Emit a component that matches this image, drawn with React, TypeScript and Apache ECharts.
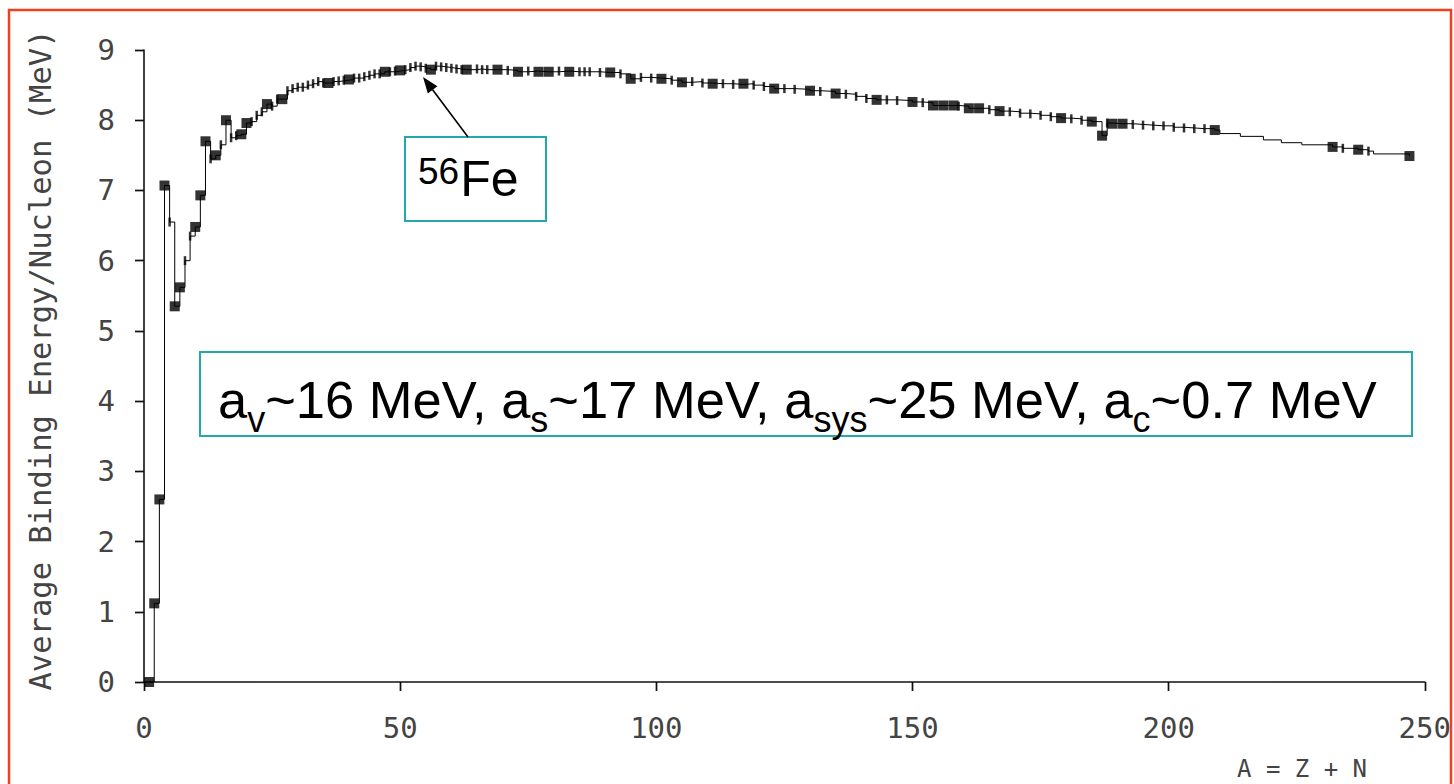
import React, { useEffect, useRef } from "react";
import * as echarts from "echarts";

// Mass number A and average binding energy per nucleon (MeV)
const squareA = [1, 2, 3, 4, 6, 7, 10, 11, 12, 14, 16, 19, 20, 24, 27, 36, 40, 47, 50, 56, 63, 69, 73, 77, 79, 83, 91, 95, 101, 105, 111, 117, 123, 130, 135, 143, 150, 154, 156, 158, 161, 163, 167, 179, 185, 187, 189, 191, 209, 232, 237, 247];
const squareBE = [0, 1.12, 2.6, 7.07, 5.35, 5.62, 6.48, 6.93, 7.7, 7.5, 8.0, 7.8, 7.96, 8.23, 8.3, 8.53, 8.58, 8.69, 8.71, 8.72, 8.72, 8.72, 8.69, 8.69, 8.69, 8.69, 8.68, 8.59, 8.59, 8.54, 8.52, 8.52, 8.45, 8.42, 8.38, 8.29, 8.26, 8.21, 8.21, 8.21, 8.17, 8.17, 8.13, 8.03, 7.98, 7.78, 7.95, 7.95, 7.86, 7.62, 7.58, 7.49];

const tickA = [5, 8, 9, 13, 15, 17, 18, 21, 22, 23, 25, 26, 28, 29, 30, 31, 32, 33, 34, 35, 37, 38, 39, 41, 42, 43, 44, 45, 46, 48, 49, 51, 52, 53, 54, 55, 57, 58, 59, 60, 61, 62, 65, 66, 67, 71, 75, 81, 85, 86, 87, 89, 93, 97, 99, 103, 107, 109, 113, 115, 119, 121, 125, 127, 132, 137, 139, 141, 145, 147, 152, 159, 165, 169, 171, 173, 175, 177, 181, 183, 188, 193, 195, 197, 199, 201, 203, 205, 207, 234, 239];
const tickBE = [6.55, 6.0, 6.35, 7.45, 7.65, 7.75, 7.78, 7.98, 8.07, 8.12, 8.2, 8.3, 8.42, 8.45, 8.47, 8.47, 8.5, 8.52, 8.55, 8.53, 8.55, 8.56, 8.57, 8.6, 8.6, 8.62, 8.64, 8.66, 8.66, 8.69, 8.7, 8.72, 8.75, 8.77, 8.76, 8.74, 8.77, 8.76, 8.75, 8.74, 8.73, 8.72, 8.73, 8.72, 8.72, 8.71, 8.7, 8.7, 8.69, 8.69, 8.69, 8.68, 8.66, 8.61, 8.6, 8.57, 8.55, 8.53, 8.52, 8.51, 8.5, 8.48, 8.45, 8.44, 8.41, 8.37, 8.34, 8.31, 8.29, 8.28, 8.25, 8.2, 8.15, 8.12, 8.1, 8.09, 8.07, 8.05, 8.02, 8.0, 7.96, 7.94, 7.93, 7.92, 7.92, 7.9, 7.89, 7.88, 7.88, 7.6, 7.56];

// points on the connecting step line that carry no marker
const lineOnlyA = [210, 214, 218.5, 222, 226, 240];
const lineOnlyBE = [7.81, 7.77, 7.72, 7.68, 7.65, 7.52];

const xTicks = { min: 0, max: 250, interval: 50 };
const yTicks = { min: 0, max: 9, interval: 1 };

const yAxisName = "Average Binding Energy/Nucleon (MeV)";
const xAxisName = "A = Z + N";
const feLabel = { sup: "56", main: "Fe" };
const coeffParts: [string, "m" | "s"][] = [
  ["a", "m"], ["v", "s"], ["~16 MeV, a", "m"], ["s", "s"], ["~17 MeV, a", "m"], ["sys", "s"],
  ["~25 MeV, a", "m"], ["c", "s"], ["~0.7 MeV", "m"],
];

const TEAL = "#23a9a8";
const RED = "#f0401f";
const AX = "#111";
const MONO = "DejaVu Sans Mono";
const SANS = "Liberation Sans";

export default function App() {
  const ref = useRef<HTMLDivElement>(null);

  useEffect(() => {
    if (!ref.current) return;
    const chart = echarts.init(ref.current, null, { renderer: "svg" });

    const sq = squareA.map((a, i) => [a, squareBE[i]]);
    const tk = tickA.map((a, i) => [a, tickBE[i]]);
    const lo = lineOnlyA.map((a, i) => [a, lineOnlyBE[i]]);
    const curve = [...sq, ...tk, ...lo].sort((p, q) => p[0] - q[0]);

    const ctx = document.createElement("canvas").getContext("2d")!;
    const measure = (t: string, size: number) => {
      ctx.font = `${size}px "${SANS}"`;
      return ctx.measureText(t).width;
    };

    // coefficient line laid out piece by piece (main text + subscripts)
    const mainSize = 52.5;
    const subSize = 36;
    let cx = 218;
    const coeffTexts: any[] = [];
    coeffParts.forEach(([t, k]) => {
      const size = k === "m" ? mainSize : subSize;
      coeffTexts.push({
        type: "text",
        x: cx,
        y: k === "m" ? 399 : 419,
        z: 20,
        style: { text: t, fontFamily: SANS, fontSize: size, fill: "#000", align: "left", verticalAlign: "middle" },
      });
      cx += measure(t, size);
    });

    const supSize = 37;
    const supW = measure(feLabel.sup, supSize);

    // arrow from Fe box to curve
    const tail = [468, 137];
    const tip = [423, 77];
    const dx = tip[0] - tail[0];
    const dy = tip[1] - tail[1];
    const len = Math.hypot(dx, dy);
    const ux = dx / len, uy = dy / len;
    const hl = 16, hw = 6;
    const bx = tip[0] - ux * hl, by = tip[1] - uy * hl;
    const nx = -uy, ny = ux;

    const axisCommon = (extra: any) => ({
      type: "value",
      splitLine: { show: false },
      ...extra,
    });

    chart.setOption({
      animation: false,
      backgroundColor: "#fff",
      grid: { left: 144, right: 29, top: 50, bottom: 102 },
      xAxis: [
        axisCommon({
          ...xTicks,
          axisLine: { show: true, onZero: false, lineStyle: { color: AX, width: 1.6 } },
          axisTick: { show: true, length: 9, lineStyle: { color: AX, width: 1.4 } },
          axisLabel: { margin: 31, fontFamily: MONO, fontSize: 29, color: "#444" },
        }),
        axisCommon({
          ...xTicks,
          axisLine: { show: false },
          axisTick: { show: true, inside: true, length: 9, lineStyle: { color: AX, width: 1.4 } },
          axisLabel: { show: false },
        }),
      ],
      yAxis: [
        axisCommon({
          ...yTicks,
          axisLine: { show: true, onZero: false, lineStyle: { color: AX, width: 1.6 } },
          axisTick: { show: true, length: 9, lineStyle: { color: AX, width: 1.4 } },
          axisLabel: { margin: 29, fontFamily: MONO, fontSize: 29, color: "#444" },
        }),
        axisCommon({
          ...yTicks,
          axisLine: { show: false },
          axisTick: { show: true, inside: true, length: 9, lineStyle: { color: AX, width: 1.4 } },
          axisLabel: { show: false },
        }),
      ],
      series: [
        {
          name: "curve",
          type: "line",
          data: curve,
          step: "end",
          showSymbol: false,
          lineStyle: { color: "#000", width: 1 },
          z: 2,
        },
        {
          name: "nuclei",
          type: "scatter",
          data: sq,
          symbol: "rect",
          symbolSize: [10, 10],
          itemStyle: { color: "#000" },
          z: 3,
        },
        {
          name: "nuclei-ticks",
          type: "scatter",
          data: tk,
          symbol: "rect",
          symbolSize: [2.5, 9],
          itemStyle: { color: "#000" },
          z: 3,
        },
      ],
      graphic: [
        {
          type: "rect",
          z: 30,
          shape: { x: 9, y: 10, width: 1442, height: 800 },
          style: { fill: "none", stroke: RED, lineWidth: 2.5 },
        },
        {
          type: "text",
          x: 40,
          y: 360,
          rotation: Math.PI / 2,
          style: { text: yAxisName, fontFamily: MONO, fontSize: 30.5, fill: "#444", align: "center", verticalAlign: "middle" },
        },
        {
          type: "text",
          x: 1302,
          y: 757,
          style: { text: xAxisName, fontFamily: MONO, fontSize: 24, fill: "#444", align: "center", verticalAlign: "top" },
        },
        {
          type: "rect",
          z: 10,
          shape: { x: 405, y: 137, width: 141, height: 84 },
          style: { fill: "#fff", stroke: TEAL, lineWidth: 2 },
        },
        {
          type: "text",
          z: 20,
          x: 418,
          y: 171,
          style: { text: feLabel.sup, fontFamily: SANS, fontSize: supSize, fill: "#000", align: "left", verticalAlign: "middle" },
        },
        {
          type: "text",
          z: 20,
          x: 418 + supW + 1,
          y: 179,
          style: { text: feLabel.main, fontFamily: SANS, fontSize: 50, fill: "#000", align: "left", verticalAlign: "middle" },
        },
        {
          type: "line",
          z: 20,
          shape: { x1: tail[0], y1: tail[1], x2: bx, y2: by },
          style: { stroke: "#000", lineWidth: 1.6 },
        },
        {
          type: "polygon",
          z: 20,
          shape: { points: [tip, [bx + nx * hw, by + ny * hw], [bx - nx * hw, by - ny * hw]] },
          style: { fill: "#000" },
        },
        {
          type: "rect",
          z: 10,
          shape: { x: 200, y: 352, width: 1212, height: 84 },
          style: { fill: "#fff", stroke: TEAL, lineWidth: 2 },
        },
        ...coeffTexts,
      ],
    });

    return () => chart.dispose();
  }, []);

  return (
    <div
      ref={ref}
      style={{ position: "absolute", left: 0, top: 0, width: 1454, height: 784, background: "#fff" }}
    />
  );
}
